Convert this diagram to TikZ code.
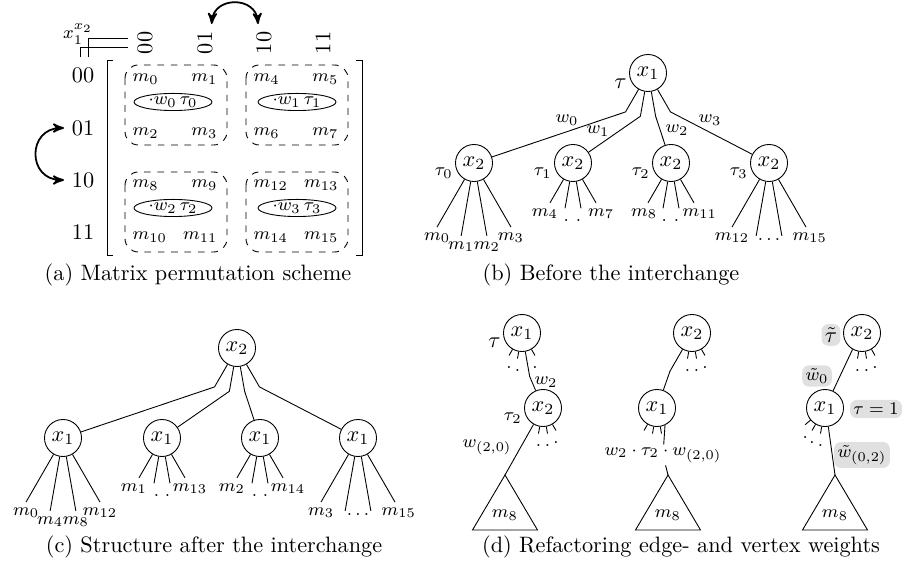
\documentclass[tikz,border=0pt]{standalone}
\usetikzlibrary{arrows,shapes.geometric}
\definecolor{TagGray}{gray}{0.88}

\begin{document}
\begin{tikzpicture}[x=1.5775mm,y=1.5775mm,
  vtx/.style={circle,draw,minimum size=5.84mm,inner sep=0pt},
  leaf/.style={font=\footnotesize,text height=1ex,text depth=.4ex,inner sep=1.5pt,anchor=north},
  mlab/.style={font=\footnotesize,inner sep=1pt},
  wlab/.style={font=\footnotesize,inner sep=1pt},
  tlab/.style={font=\footnotesize,inner sep=1pt},
  tag/.style={fill=TagGray,rounded corners=3pt,inner sep=1.5pt},
  blk/.style={draw,dashed,rounded corners=6pt},
  ell/.style={ellipse,draw,minimum width=12.3mm,minimum height=2.7mm,inner sep=0pt,font=\footnotesize},
  swap/.style={<->,>=stealth',thick}]
\useasboundingbox (0,0) rectangle (90.2,57.1);

% (a) the matrix
\node[font=\footnotesize] (vars) at (7.8,53.7) {$x_1^{x_2}$};
\draw (8.0,51.4) |- (12.8,52.4);
\draw (8.8,51.4) |- (12.8,53.3);
\foreach \c/\x in {00/14.5,01/20.5,10/26.4,11/32.3}
  \node[rotate=90] (col\c) at (\x,52.8) {\c};
\foreach \r/\y in {00/49.6,01/44.3,10/39.1,11/33.9}
  \node (row\r) at (8.3,\y) {\r};
\draw[swap] ([xshift=3pt]col01.east) .. controls +(0.2,2.8) and +(-0.2,2.8) .. ([xshift=-2.7pt]col10.east);
\draw[swap] (row01.west) .. controls +(-3.7,0) and +(-3.7,0) .. (row10.west);

\draw (11.3,51.1) -| (10.7,31.6) -- (11.3,31.6);
\draw (35.6,51.1) -| (36.2,31.6) -- (35.6,31.6);

\foreach \x/\y in {12.5/50.6,24.6/50.6,12.5/39.9,24.6/39.9}
  \draw[blk] (\x,\y) rectangle ++(10.2,-8);
\foreach \i/\x/\y in {0/17.3/46.9,1/29.7/46.9,2/17.3/36.3,3/29.7/36.3}
  \node[ell] (e\i) at (\x,\y) {$\cdot w_\i\,\tau_\i$};
\foreach \k/\x/\y/\s in {0/13.0/49.2/west,1/22.0/49.2/east,2/13.0/43.8/west,3/22.0/43.8/east,
    4/25.1/49.2/west,5/34.1/49.2/east,6/25.1/43.8/west,7/34.1/43.8/east,
    8/13.0/38.6/west,9/22.0/38.6/east,10/13.0/33.4/west,11/22.0/33.4/east,
    12/25.1/38.6/west,13/34.1/38.6/east,14/25.1/33.4/west,15/34.1/33.4/east}
  \node[mlab,anchor=\s] (a\k) at (\x,\y) {$m_{\k}$};

\node (capA) at (19.8,29.6) {(a) Matrix permutation scheme};

% (b) before
\node[vtx,label={[inner sep=1pt]190:$\tau$}] (B) at (64.8,49.8) {$x_1$};
\foreach \i/\x in {0/47.4,1/57.3,2/67.1,3/76.9}
  \node[vtx,label={[tlab]188:$\tau_\i$}] (C\i) at (\x,40.8) {$x_2$};
\draw (B.-120) -- ++(-120:2.6) -- (C0);
\draw (B.-100) -- ++(-100:2.5) -- (C1);
\draw (B.-80) -- ++(-80:2.5) -- (C2);
\draw (B.-60) -- ++(-60:2.6) -- (C3);
\foreach \i/\x/\y in {0/56.7/45.1,1/59.8/44.0,2/67.7/44.1,3/71.0/45.1}
  \node[wlab] (bw\i) at (\x,\y) {$w_\i$};

\foreach \a/\t [count=\n] in {-120/m_0,-100/m_1,-80/m_2,-60/m_3}
  \draw (C0.\a) -- ++(\a:5.5) node[leaf] (C0m\n) {$\t$};
\foreach \a/\t/\s [count=\n] in {-120/m_4/-0.8,-100/./0.2,-80/./-0.4,-60/m_7/0.8}
  \draw (C1.\a) -- ++(\a:2.7) node[leaf,xshift=\s mm] (C1m\n) {$\t$};
\foreach \a/\t/\s [count=\n] in {-120/m_8/-0.6,-100/./0.2,-80/./-0.4,-60/m_{11}/0.9}
  \draw (C2.\a) -- ++(\a:2.7) node[leaf,xshift=\s mm] (C2m\n) {$\t$};
\draw (C3.-120) -- ++(-120:5.5) node[leaf] (C3m1) {$m_{12}$};
\draw (C3.-100) -- ++(-100:5.5) coordinate (C3m2);
\draw (C3.-80) -- ++(-80:5.5) coordinate (C3m3);
\draw (C3.-60) -- ++(-60:5.5) node[leaf,xshift=.6mm] (C3m4) {$m_{15}$};
\node[leaf] (C3dots) at (76.9,34.4) {$\ldots$};

\node (capB) at (61.1,29.6) {(b) Before the interchange};

% (c) after
\node[vtx] (T) at (23.7,22.3) {$x_2$};
\foreach \i/\x in {0/6.3,1/16.2,2/26.0,3/35.8}
  \node[vtx] (D\i) at (\x,13.3) {$x_1$};
\draw (T.-120) -- ++(-120:2.6) -- (D0);
\draw (T.-100) -- ++(-100:2.5) -- (D1);
\draw (T.-80) -- ++(-80:2.5) -- (D2);
\draw (T.-60) -- ++(-60:2.6) -- (D3);

\foreach \a/\t [count=\n] in {-120/m_0,-100/m_4,-80/m_8,-60/m_{12}}
  \draw (D0.\a) -- ++(\a:5.5) node[leaf] (D0m\n) {$\t$};
\foreach \a/\t/\s [count=\n] in {-120/m_1/-0.8,-100/./0.4,-80/./-0.4,-60/m_{13}/0.8}
  \draw (D1.\a) -- ++(\a:2.7) node[leaf,xshift=\s mm] (D1m\n) {$\t$};
\foreach \a/\t/\s [count=\n] in {-120/m_2/-0.8,-100/./0.4,-80/./-0.4,-60/m_{14}/0.8}
  \draw (D2.\a) -- ++(\a:2.7) node[leaf,xshift=\s mm] (D2m\n) {$\t$};
\draw (D3.-120) -- ++(-120:5.5) node[leaf] (D3m1) {$m_3$};
\draw (D3.-100) -- ++(-100:5.5) coordinate (D3m2);
\draw (D3.-80) -- ++(-80:5.5) coordinate (D3m3);
\draw (D3.-60) -- ++(-60:5.5) node[leaf,xshift=.6mm] (D3m4) {$m_{15}$};
\node[leaf] (D3dots) at (35.8,6.9) {$\ldots$};

\node (capC) at (21.4,2.4) {(c) Structure after the interchange};

% (d) refactoring, three steps
\node[vtx,label={[inner sep=1pt]188:$\tau$}] (P1) at (52.2,23.8) {$x_1$};
\node[vtx,label={[tlab]188:$\tau_2$}] (P2) at (54.3,16.3) {$x_2$};
\draw (P1.-80) -- ++(-80:2.5) -- (P2);
\node[wlab] (pw1) at (54.6,18.9) {$w_2$};
\foreach \a [count=\n] in {-120,-100,-60}
  \draw (P1.\a) -- ++(\a:0.7) node[leaf] (P1s\n) {$.$};
\foreach \a [count=\n] in {-100,-80,-60}
  \draw (P2.\a) -- ++(\a:0.7) node[leaf] (P2s\n) {$.$};
\coordinate (P2t) at (50.5,9.6);
\draw (P2.-120) -- (P2t);
\draw (P2t) -- ++(-3.25,-5.5) -- ++(6.5,0) -- cycle;
\node[mlab] (P2m) at (50.5,5.6) {$m_8$};
\node[wlab] (pw2) at (48.7,12.4) {$w_{(2,0)}$};

\node[vtx] (Q1) at (69.2,23.8) {$x_2$};
\node[vtx] (Q2) at (65.7,16.3) {$x_1$};
\draw (Q1.-120) -- ++(-120:2.5) -- (Q2);
\foreach \a [count=\n] in {-100,-80,-60}
  \draw (Q1.\a) -- ++(\a:0.7) node[leaf] (Q1s\n) {$.$};
\foreach \a in {-120,-100,-80}
  \draw (Q2.\a) -- ++(\a:0.7);
\node[wlab] (qw) at (66.3,11.6) {$w_2\cdot\tau_2\cdot w_{(2,0)}$};
\coordinate (Q2t) at (66.8,9.6);
\draw (Q2.-65) -- (qw);
\draw (qw) -- (Q2t);
\draw (Q2t) -- ++(-3.25,-5.5) -- ++(6.5,0) -- cycle;
\node[mlab] (Q2m) at (66.8,5.6) {$m_8$};

\node[vtx] (R1) at (86.2,23.8) {$x_2$};
\node[vtx] (R2) at (82.5,16.3) {$x_1$};
\draw (R1.-120) -- (R2);
\foreach \a [count=\n] in {-100,-80,-60}
  \draw (R1.\a) -- ++(\a:0.7) node[leaf] (R1s\n) {$.$};
\foreach \a [count=\n] in {-140,-120,-100}
  \draw (R2.\a) -- ++(\a:0.7) node[leaf] (R2s\n) {$.$};
\coordinate (R2t) at (83.5,9.6);
\draw (R2.-80) -- (R2t);
\draw (R2t) -- ++(-3.25,-5.5) -- ++(6.5,0) -- cycle;
\node[mlab] (R2m) at (83.5,5.6) {$m_8$};
\node[tag] (rt) at (83.1,23.6) {$\tilde{\tau}$};
\node[tag,font=\footnotesize] (rw0) at (81.7,19.5) {$\tilde{w}_0$};
\node[tag,font=\footnotesize] (rtau) at (87.6,16.2) {$\tau=1$};
\node[tag,font=\footnotesize] (rw02) at (86.2,11.6) {$\tilde{w}_{(0,2)}$};

\node (capD) at (68.1,2.4) {(d) Refactoring edge- and vertex weights};
\end{tikzpicture}
\end{document}
